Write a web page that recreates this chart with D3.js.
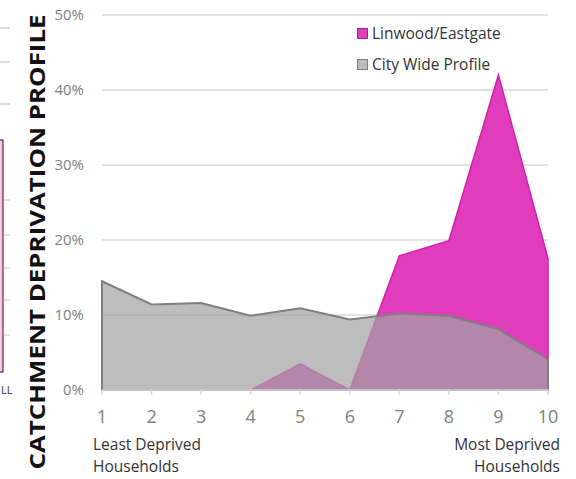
<!DOCTYPE html>
<html><head><meta charset="utf-8">
<script src="https://cdn.jsdelivr.net/npm/d3@7"></script>
<style>body{margin:0;background:#fff}svg{display:block}</style>
</head><body>
<svg id="c" width="576" height="479"></svg>
<script>
const deciles = [1,2,3,4,5,6,7,8,9,10];
const cityWide = [14.5,11.4,11.6,9.9,10.9,9.4,10.2,9.9,8.1,4.1];
const linwood = [0,0,0,0,3.5,0,17.9,19.9,42.0,17.5];
const yTicks = [0,10,20,30,40,50];
const seriesNames = ["Linwood/Eastgate","City Wide Profile"];
const yTitle = "CATCHMENT DEPRIVATION PROFILE";

const svg = d3.select("#c");
const font = "'Open Sans', sans-serif";
const x = d3.scaleLinear().domain([1,10]).range([102,548]);
const y = d3.scaleLinear().domain([0,50]).range([390,15]);

// cropped neighbour graphic fragments at left edge
const frag = svg.append("g");
frag.append("rect").attr("x",-10).attr("y",140).attr("width",13).attr("height",232)
  .attr("fill","#f6c6e8").attr("stroke","#5a2a4a").attr("stroke-width",1.2);
[28,62,104].forEach(v=>frag.append("line").attr("x1",0).attr("x2",10).attr("y1",v).attr("y2",v).attr("stroke","#d0d0d0").attr("stroke-width",1.5));
[200,235,268,300,335].forEach(v=>frag.append("line").attr("x1",4).attr("x2",10).attr("y1",v).attr("y2",v).attr("stroke","#d0d0d0").attr("stroke-width",1.2));
frag.append("text").attr("x",1).attr("y",394).text("LL").attr("font-family",font).attr("font-size",11).attr("fill","#333");

// y title
svg.append("text").attr("transform","translate(45,242) rotate(-90)")
  .attr("text-anchor","middle").attr("font-family",font).attr("font-weight","bold")
  .attr("font-size",22).attr("fill","#111")
  .attr("textLength",455).attr("lengthAdjust","spacingAndGlyphs").text(yTitle);

// grid
svg.append("g").selectAll("line").data(yTicks.filter(d=>d>0)).join("line")
  .attr("x1",102).attr("x2",548).attr("y1",d=>y(d)).attr("y2",d=>y(d))
  .attr("stroke","#d9d9d9").attr("stroke-width",1.5);

// y labels
svg.append("g").selectAll("text").data(yTicks).join("text")
  .attr("x",84).attr("y",d=>y(d)+5).attr("text-anchor","end")
  .attr("font-family",font).attr("font-size",15).attr("fill","#808080")
  .text(d=>d+"%");

// areas
const pts = (arr)=>arr.map((v,i)=>[deciles[i],v]);
const area = d3.area().x(d=>x(d[0])).y0(y(0)).y1(d=>y(d[1]));
svg.append("path").datum(pts(linwood)).attr("d",area)
  .attr("fill","#df3dbb").attr("stroke","#d21eab").attr("stroke-width",1.5);
svg.append("path").datum(pts(cityWide)).attr("d",area)
  .attr("fill","#a3a3a3").attr("fill-opacity",0.72)
  .attr("stroke","#7f7f7f").attr("stroke-width",2);

// x axis
svg.append("line").attr("x1",102).attr("x2",548).attr("y1",390).attr("y2",390)
  .attr("stroke","#d9d9d9").attr("stroke-width",1.5);
svg.append("g").selectAll("line").data(deciles).join("line")
  .attr("x1",d=>x(d)).attr("x2",d=>x(d)).attr("y1",390).attr("y2",395)
  .attr("stroke","#d9d9d9").attr("stroke-width",1.5);
svg.append("g").selectAll("text").data(deciles).join("text")
  .attr("x",d=>x(d)).attr("y",423).attr("text-anchor","middle")
  .attr("font-family",font).attr("font-size",18).attr("fill","#808080").text(d=>d);

// end labels
const lbl = (t,xx,yy,anchor)=>svg.append("text").attr("x",xx).attr("y",yy)
  .attr("text-anchor",anchor).attr("font-family",font).attr("font-size",15.5)
  .attr("fill","#333").text(t);
lbl("Least Deprived",93,450,"start");
lbl("Households",93,472,"start");
lbl("Most Deprived",560,450,"end");
lbl("Households",560,472,"end");

// legend
const leg = svg.append("g");
const legStyle = [{fill:"#df3dbb",stroke:"#b0188f"},{fill:"#bdbdbd",stroke:"#7f7f7f"}];
seriesNames.forEach((n,i)=>{
  const yy = 28 + i*31;
  leg.append("rect").attr("x",357.5).attr("y",yy+0.5).attr("width",10).attr("height",10)
    .attr("fill",legStyle[i].fill).attr("stroke",legStyle[i].stroke).attr("stroke-width",1);
  leg.append("text").attr("x",372).attr("y",yy+10.5).attr("font-family",font)
    .attr("font-size",15.5).attr("fill","#333").text(n);
});
</script>
</body></html>
